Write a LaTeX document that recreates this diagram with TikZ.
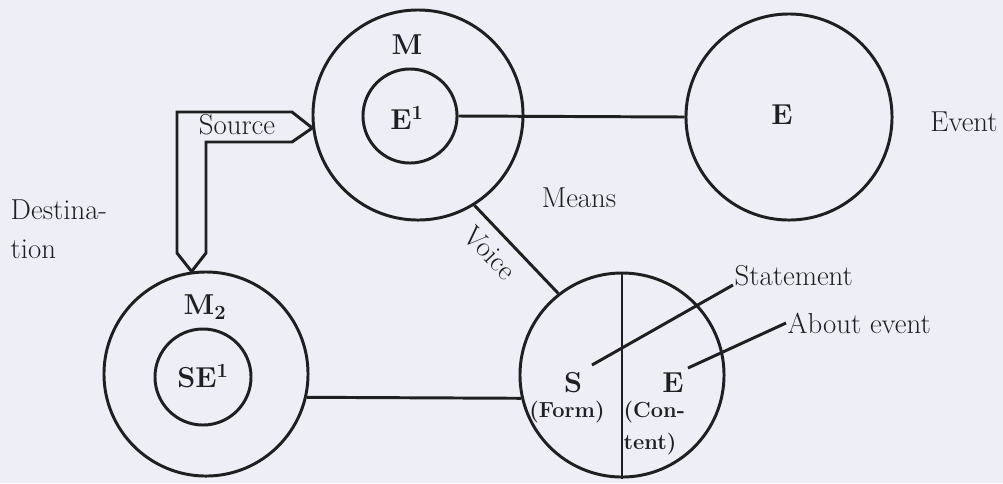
\documentclass[tikz,border=0pt]{standalone}
\usepackage{tikz}
\definecolor{paper}{HTML}{EDEEF6}
\definecolor{ink}{HTML}{1F1F22}

\begin{document}
\begin{tikzpicture}[x=0.025cm,y=-0.025cm,
  every node/.style={font=\fontsize{20.5}{28}\selectfont,color=ink,inner sep=1pt},
  ring/.style={circle,draw=ink,line width=2.1pt,inner sep=0pt},
  bold/.style={font=\fontsize{20.5}{28}\selectfont\bfseries},
  note/.style={font=\fontsize{15.5}{23}\selectfont\bfseries,align=left},
  wire/.style={draw=ink,line width=2.1pt}]
\fill[paper] (0,0) rectangle (1003,483);
\useasboundingbox (0,0) rectangle (1003,483);

% circles
\node[ring,minimum size=5.25cm] (mout) at (418,115) {};
\node[ring,minimum size=2.35cm] (eone) at (410,116) {};
\node[ring,minimum size=5.15cm] (event) at (789,117) {};
\node[ring,minimum size=5.1cm] (mtwo) at (206,374) {};
\node[ring,minimum size=2.4cm] (seone) at (203,377) {};
\node[ring,minimum size=5.1cm] (stm) at (622,375) {};

% letters in the circles
\node[bold] (mlab) at (407,45) {M};
\node[bold] (elab) at (407,118) {E\textsuperscript{1}};
\node[bold] (evlab) at (782,115) {E};
\node[bold] (mtlab) at (205,307) {M\textsubscript{2}};
\node[bold] (selab) at (203,376) {SE\textsuperscript{1}};
\node[bold] (slab) at (573,383) {S};
\node[bold] (eslab) at (673,383) {E};
\node[note] (form) at (567,412) {(Form)};
\node[note,anchor=west] (cont) at (622,428) {(Con-\\tent)};

% plain labels
\foreach \n/\p/\t in {src/{(237,125)}/Source, means/{(579,198)}/Means, evt/{(964,122)}/Event}
  \node (\n) at \p {\t};
\node[align=left,anchor=west] (dest) at (9,229) {Destina-\\tion};
\node[anchor=base west] (stmt) at (733,285) {Statement};
\node[anchor=west] (about) at (786,323) {About event};

% connectors
\draw[wire] (eone.east) -- (event.west);
\draw[wire] (mtwo.-13.5) -- (stm.193.5);
\draw[wire] (stm.north) -- (stm.south);
\draw[wire] (mout.-58) -- node[sloped,below=6pt,pos=0.37] {Voice} (stm.128);
\coordinate (sdot) at (592,365);
\coordinate (edot) at (688,368);
\draw[wire] (sdot) -- (stmt.base west);
\draw[wire] (edot) -- (about.west);

% source arrow
\draw[wire,line join=miter] (mtwo.98) -- (177,253) -- (177,112) -- (292,112)
  -- (mout.187) -- (292,142) -- (206,142) -- (206,253) -- cycle;
\end{tikzpicture}
\end{document}
